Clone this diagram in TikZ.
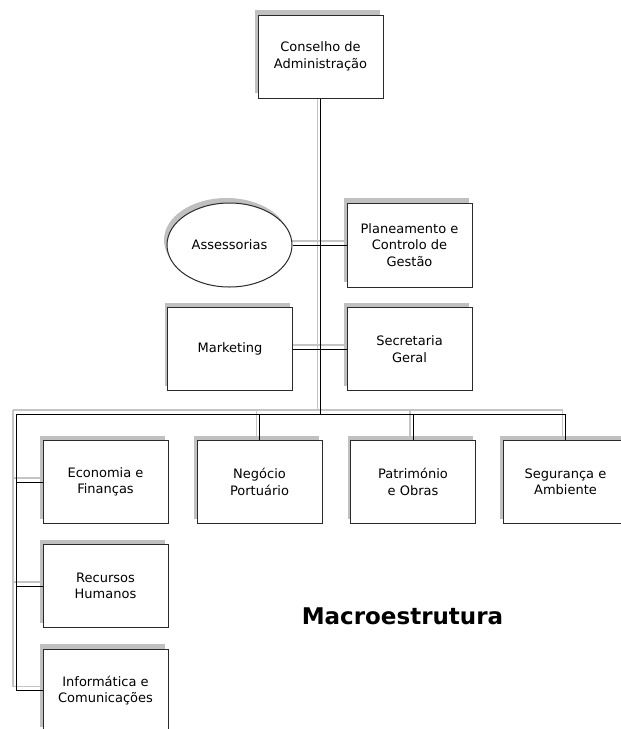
\documentclass[tikz,border=0pt]{standalone}
\usepackage{fontspec}
\setmainfont{DejaVu Sans}
\usetikzlibrary{shapes.geometric,shadows,backgrounds}

\definecolor{shadowgray}{HTML}{C0C0C0}
\definecolor{linkshadow}{HTML}{C4C4C4}
\definecolor{boxline}{HTML}{2A2A2A}

% connectors of the chart, drawn twice (shadow and line)
\newcommand{\orglinks}{%
  \draw (cda.south) -- (cda.south |- barL);
  \draw (ass) -- (pcg);
  \draw (mkt) -- (sg);
  \draw (barL) -- (sa.north |- barL) -- (sa.north);
  \draw (np.north |- barL) -- (np.north);
  \draw (po.north |- barL) -- (po.north);
  \draw (barL) -- (barL |- ic.west) -- (ic.west);
  \draw (barL |- ef.west) -- (ef.west);
  \draw (barL |- rh.west) -- (rh.west);
}

\begin{document}
\begin{tikzpicture}[x=1pt,y=-1pt,
    orgbox/.style={draw=boxline,line width=1pt,fill=white,
      minimum width=125pt,minimum height=83pt,align=center,
      font=\fontsize{13}{16.5}\selectfont,
      general shadow={fill=shadowgray,shadow xshift=-3pt,shadow yshift=5pt}}]
        \useasboundingbox (0,0) rectangle (621,729);

        \node[orgbox] (cda) at (320.5,56.5) {Conselho de\\Administração};

        \node[orgbox,ellipse,minimum height=84pt] (ass) at (229.5,245) {Assessorias};
        \node[orgbox,minimum height=84pt] (pcg) at (409.5,245) {Planeamento e\\Controlo de\\Gestão};

        \node[orgbox] (mkt) at (230,349) {Marketing};
        \node[orgbox] (sg) at (409.5,349) {Secretaria\\Geral};

        \node[orgbox] (ef) at (105.5,482) {Economia e\\Finanças};
        \node[orgbox] (np) at (259.5,482) {Negócio\\Portuário};
        \node[orgbox] (po) at (413,482) {Património\\e Obras};
        \node[orgbox] (sa) at (565.5,482) {Segurança e\\Ambiente};

        \node[orgbox] (rh) at (105.5,586) {Recursos\\Humanos};
        \node[orgbox] (ic) at (105.5,690.5) {Informática e\\Comunicações};

        \coordinate (barL) at (16,414);

        % shadow of the connectors
        \begin{pgfonlayer}{background}
            \begin{scope}[draw=linkshadow,line width=1.2pt,
                transform canvas={xshift=-3pt,yshift=4pt}]
                \orglinks
            \end{scope}
        \end{pgfonlayer}
        \begin{scope}[draw=black,line width=1pt]
            \orglinks
        \end{scope}

        \node[font=\fontsize{23}{27}\selectfont\bfseries] (title) at (402.5,616) {Macroestrutura};
\end{tikzpicture}
\end{document}
